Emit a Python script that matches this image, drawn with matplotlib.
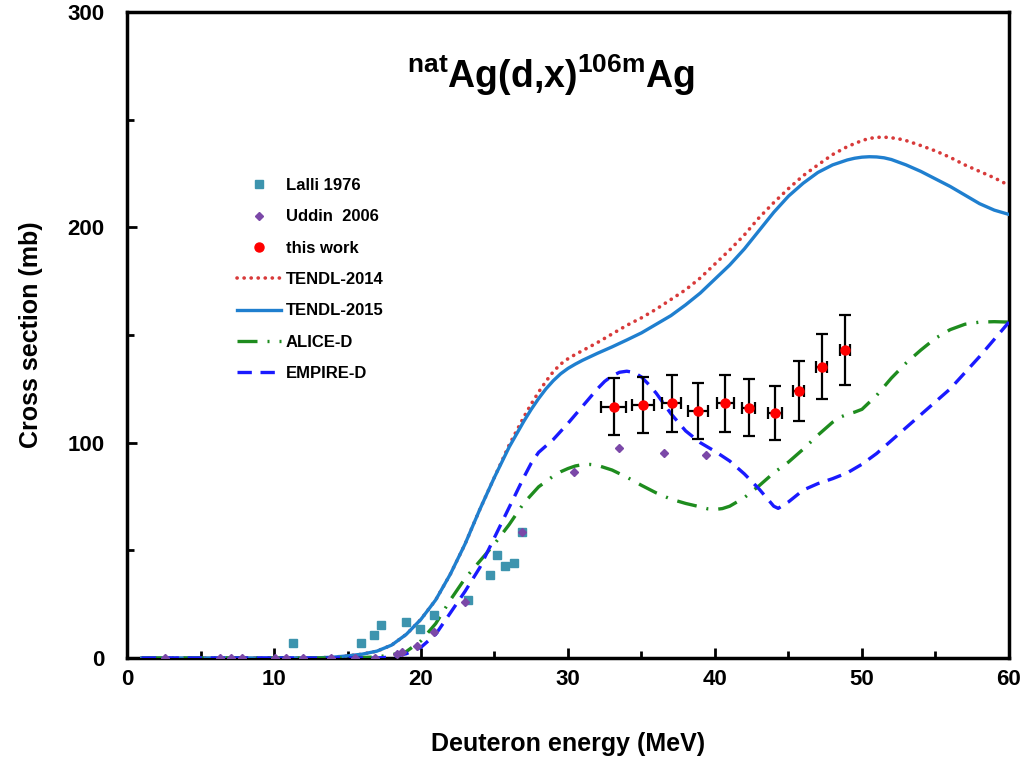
import numpy as np
import matplotlib
matplotlib.use('Agg')
import matplotlib.pyplot as plt
from matplotlib.ticker import MultipleLocator
from matplotlib.lines import Line2D

plt.rcParams['font.family'] = ['Liberation Sans', 'DejaVu Sans']
plt.rcParams['font.weight'] = 'bold'
plt.rcParams['mathtext.fontset'] = 'custom'
plt.rcParams['mathtext.bf'] = 'Liberation Sans:bold'
plt.rcParams['mathtext.rm'] = 'Liberation Sans:bold'

# Experimental data
lalli_e = [11.3, 15.9, 16.8, 17.3, 19.0, 19.9, 20.9, 23.2, 24.7, 25.2, 25.7, 26.3, 26.85]
lalli_s = [7.1, 7.1, 10.7, 15.2, 16.6, 13.6, 20.1, 26.8, 38.5, 47.8, 42.7, 44.3, 58.7]

uddin_e = [2.6, 6.3, 7.05, 7.8, 10.1, 10.8, 12.0, 13.9, 15.5, 16.9, 18.35, 18.7, 19.7,
           20.9, 23.0, 26.85, 30.4, 33.5, 36.5, 39.4]
uddin_s = [0, 0, 0, 0, 0, 0, 0, 0, 0, 0, 1.9, 2.9, 5.6,
           12.2, 26.2, 58.7, 86.5, 97.4, 95.1, 94.4]

work_e = [33.1, 35.1, 37.05, 38.85, 40.7, 42.3, 44.1, 45.7, 47.25, 48.85]
work_s = [116.7, 117.5, 118.3, 114.7, 118.3, 116.3, 113.9, 124.2, 135.3, 143.1]
work_de = [0.83, 0.77, 0.66, 0.66, 0.57, 0.45, 0.49, 0.37, 0.4, 0.34]
work_ds = [13.2, 13.2, 13.2, 13.2, 13.2, 13.1, 12.6, 13.9, 15.0, 16.2]

# Theoretical curves
tendl15_e = [1, 10, 13, 14, 15, 16, 17, 18, 19, 20, 21, 22, 23, 24, 25, 26, 27, 27.5, 28, 28.5,
             29, 29.5, 30, 30.5, 31, 32, 33, 34, 35, 36, 37, 38, 39, 40, 41, 42, 43, 44, 45,
             46, 47, 48, 49, 49.5, 50, 50.5, 51, 51.5, 52, 53, 54, 55, 56, 57, 58, 59, 60]
tendl15_s = [0, 0, 0.1, 0.4, 1, 1.8, 3.2, 6, 11, 18, 27, 39, 53, 69, 84, 98, 110, 115.5, 120.5, 125,
             128.8, 132, 134.5, 136.5, 138.3, 141.5, 144.5, 147.7, 151, 155, 159, 164, 169.5, 176, 182.5,
             190, 198.5, 207, 214.5, 220.5, 225.5, 229, 231.3, 232.1, 232.6, 232.8, 232.7, 232.3,
             231.5, 229, 226, 222.5, 219, 215, 211, 208, 206]

tendl14_e = [1, 10, 13, 14, 15, 16, 17, 18, 19, 20, 21, 22, 23, 24, 25, 26, 27, 27.5, 28, 28.5,
             29, 29.5, 30, 30.5, 31, 32, 33, 34, 35, 36, 37, 38, 39, 40, 41, 42, 43, 44, 45,
             46, 47, 48, 49, 50, 50.5, 51, 51.5, 52, 52.5, 53, 54, 55, 56, 57, 58, 59, 60]
tendl14_s = [0, 0, 0.1, 0.4, 1, 1.8, 3.2, 6, 11, 18, 27, 39, 53, 69, 84, 99, 112, 118, 123.5, 128.5,
             133, 136.5, 139, 141, 142.8, 146.5, 150.5, 154.5, 158, 162, 166.5, 171, 176.5, 183, 189.5,
             196.5, 204.5, 211.5, 218, 224, 229, 233.8, 237.5, 240.3, 241.3, 241.8, 241.9, 241.6,
             241.1, 240.3, 238, 235.5, 232.5, 229, 226, 223, 219.5]

alice_e = [1, 15, 17, 18, 19, 20, 21, 22, 23, 24, 25, 26, 27, 28, 29, 29.5, 30, 30.5, 31, 31.5,
           32, 33, 34, 35, 36, 37, 38, 39, 39.5, 40, 40.5, 41, 42, 43, 44, 45, 46, 47, 48, 48.5,
           49, 49.5, 50, 51, 52, 53, 54, 55, 56, 57, 58, 59, 60]
alice_s = [0, 0, 0.5, 1.5, 3, 8, 16, 27, 37, 45, 53, 62, 72, 79.5, 84.5, 86.5, 88, 89.2, 89.8, 89.9,
           89.5, 87.3, 84, 80.2, 76.7, 73.8, 71.8, 70.2, 69.3, 69, 69.4, 70.5, 74.5, 80, 86, 91, 97,
           103.5, 109.5, 111.8, 113.2, 114.2, 115.5, 122, 130, 137, 143, 148.5, 152.5, 155, 156,
           156.2, 156]

empire_e = [1, 17, 18, 19, 20, 21, 22, 23, 24, 25, 26, 27, 27.5, 28, 28.5, 29, 30, 31, 32, 32.5,
            33, 33.5, 34, 34.5, 35, 35.5, 36, 37, 38, 39, 40, 41, 42, 43, 43.5, 44, 44.3, 45,
            46, 47, 48, 49, 50, 51, 52, 53, 54, 55, 56, 57, 58, 59, 60]
empire_s = [0, 0, 0.5, 2, 5, 11, 21, 31, 42, 56, 70, 84, 90.5, 95.5, 98.5, 101.5, 109, 117, 125, 128.5,
            131, 132.7, 133.2, 132.6, 130.5, 127, 123, 113.5, 105.5, 100, 96, 91.5, 85.5, 78.5, 74.5,
            70.5, 69.5, 72.5, 78, 81, 83.3, 86, 90, 95, 101, 107, 113, 119, 125, 132.5, 140, 148, 156]

dot_style = (0, (0.05, 1.9))

fig = plt.figure(figsize=(10.26, 7.61), dpi=100)
ax = fig.add_axes([0.1238, 0.1353, 0.8596, 0.8489])

ax.plot(tendl14_e, tendl14_s, color='#d83a3a', lw=2.6, linestyle=dot_style,
        dash_capstyle='round', zorder=3)
ax.plot(tendl15_e, tendl15_s, color='#1f7fcf', lw=2.4, zorder=3)
ax.plot(alice_e, alice_s, color='#1e8c1e', lw=2.4, linestyle=(0, (6, 3, 0.6, 3)), zorder=3)
ax.plot(empire_e, empire_s, color='#1a1aff', lw=2.4, linestyle=(0, (4.3, 2.6)), zorder=3)

ax.plot(lalli_e, lalli_s, 's', color='#3d94ae', markersize=6, linestyle='none', zorder=4)
ax.plot(uddin_e, uddin_s, 'D', color='#7b48a8', markersize=4.5, linestyle='none', zorder=5)
ax.errorbar(work_e, work_s, xerr=work_de, yerr=work_ds, fmt='none', ecolor='black',
            elinewidth=1.6, capsize=4, capthick=1.6, zorder=6)
ax.plot(work_e, work_s, 'o', color='red', markersize=6.5, linestyle='none', zorder=7)

ax.set_xlim(0, 60)
ax.set_ylim(0, 300)
ax.xaxis.set_major_locator(MultipleLocator(10))
ax.xaxis.set_minor_locator(MultipleLocator(5))
ax.yaxis.set_major_locator(MultipleLocator(100))
ax.yaxis.set_minor_locator(MultipleLocator(50))
ax.tick_params(which='both', direction='in', width=2, labelsize=16)
ax.tick_params(which='major', length=7)
ax.tick_params(which='minor', length=5)
ax.tick_params(axis='x', pad=8)
ax.tick_params(axis='y', pad=16)
for s in ax.spines.values():
    s.set_linewidth(2.5)

ax.set_xlabel('Deuteron energy (MeV)', fontsize=18, fontweight='bold', labelpad=30)
ax.set_ylabel('Cross section (mb)', fontsize=18, fontweight='bold', labelpad=18)

ax.text(0.481, 0.902, r'$^{\mathbf{nat}}$Ag(d,x)$^{\mathbf{106m}}$Ag', transform=ax.transAxes,
        ha='center', va='center', fontsize=27, fontweight='bold')

handles = [
    Line2D([], [], marker='s', color='#3d94ae', markersize=6, linestyle='none'),
    Line2D([], [], marker='D', color='#7b48a8', markersize=4.5, linestyle='none'),
    Line2D([], [], marker='o', color='red', markersize=6.5, linestyle='none'),
    Line2D([], [], color='#d83a3a', lw=2.6, linestyle=dot_style, dash_capstyle='round'),
    Line2D([], [], color='#1f7fcf', lw=2.4),
    Line2D([], [], color='#1e8c1e', lw=2.4, linestyle=(0, (6, 3, 0.6, 3))),
    Line2D([], [], color='#1a1aff', lw=2.4, linestyle=(0, (4.3, 2.6))),
]
labels = ['Lalli 1976', 'Uddin  2006', 'this work', 'TENDL-2014', 'TENDL-2015', 'ALICE-D', 'EMPIRE-D']
ax.legend(handles, labels, loc='upper left',
          bbox_to_anchor=(0.125, 0.743), frameon=False, fontsize=12, numpoints=1,
          handlelength=2.6, handletextpad=0.3, labelspacing=0.98, borderpad=0,
          borderaxespad=0)

fig.savefig('out.png', dpi=100)
